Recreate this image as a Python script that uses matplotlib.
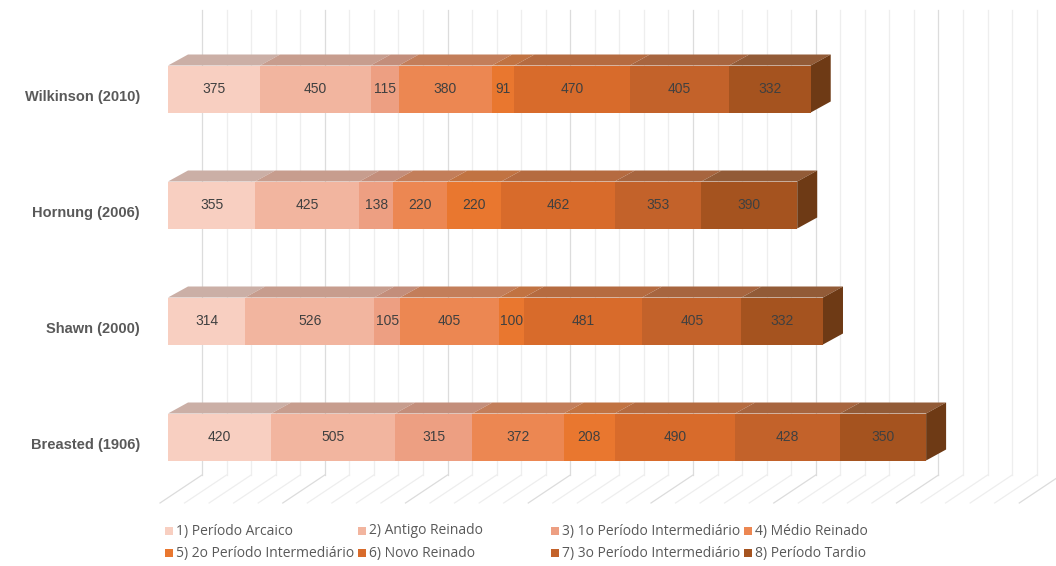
import matplotlib
matplotlib.use('Agg')
import matplotlib.pyplot as plt
from matplotlib.patches import Polygon, Rectangle
import matplotlib.colors as mcolors
import numpy as np

authors = ['Breasted (1906)', 'Shawn (2000)', 'Hornung (2006)', 'Wilkinson (2010)']
periods = ['1) Período Arcaico', '2) Antigo Reinado', '3) 1o Período Intermediário',
           '4) Médio Reinado', '5) 2o Período Intermediário', '6) Novo Reinado',
           '7) 3o Período Intermediário', '8) Período Tardio']

# durations (years) per author, one list per period
arcaico = [420, 314, 355, 375]
antigo = [505, 526, 425, 450]
inter1 = [315, 105, 138, 115]
medio = [372, 405, 220, 380]
inter2 = [208, 100, 220, 91]
novo = [490, 481, 462, 470]
inter3 = [428, 405, 353, 405]
tardio = [350, 332, 390, 332]
series = [arcaico, antigo, inter1, medio, inter2, novo, inter3, tardio]

colors = ['#F8CFC1', '#F2B59F', '#ED9F82', '#EC8752',
          '#E9772F', '#D86B2B', '#C3622A', '#A5531F']

# pixel -> data helpers (x: 0 at px 168, 0.2455 px per year; y: 116 px per category)
PX = 0.2455
PY = 116.0
W, H = 1056, 566
x0_px, y0_px = 168, 437

fig = plt.figure(figsize=(10.56, 5.66), dpi=100)
ax = fig.add_axes([0, 0, 1, 1])
ax.set_xlim(-x0_px / PX, (W - x0_px) / PX)
ax.set_ylim(-(H - y0_px) / PY, y0_px / PY)
ax.set_axis_off()

bar_h = 47 / PY
dx = 20 / PX
dy = 11 / PY

# back wall grid + floor lines
wall_dx = 34 / PX
floor_y = (y0_px - 475) / PY
front_y = (y0_px - 503) / PY
top_y = (y0_px - 10) / PY
for v in range(0, 3600, 100):
    c = '#dcdcdc' if v % 500 == 0 else '#eeeeee'
    xb = v + wall_dx
    ax.plot([xb, xb], [floor_y, top_y], color=c, lw=0.9, zorder=0)
    ax.plot([xb, xb - 42 / PX], [floor_y, front_y], color=c, lw=0.9, zorder=0)


def top_color(c):
    r, g, b = mcolors.to_rgb(c)
    gray = 0.42
    return tuple(0.68 * ch + 0.32 * gray for ch in (r, g, b))


for i, name in enumerate(authors):
    vals = [s[i] for s in series]
    lefts = np.concatenate([[0], np.cumsum(vals)[:-1]])
    yb = i - bar_h / 2
    yt = i + bar_h / 2
    for left, val, col in zip(lefts, vals, colors):
        ax.add_patch(Polygon([(left, yt), (left + val, yt), (left + val + dx, yt + dy),
                              (left + dx, yt + dy)], closed=True,
                             facecolor=top_color(col), edgecolor='none', zorder=2))
    total = sum(vals)
    ax.add_patch(Polygon([(total, yb), (total + dx, yb + dy), (total + dx, yt + dy),
                          (total, yt)], closed=True, facecolor='#6E3A15',
                         edgecolor='none', zorder=2))
    ax.barh(i, vals, left=lefts, height=bar_h, color=colors, zorder=3)
    for left, val in zip(lefts, vals):
        ax.text(left + val / 2, i, str(val), ha='center', va='center', fontsize=10,
                family='Liberation Sans', color='#404040', zorder=4)
    ax.text(-114, i - 8 / PY, name, ha='right', va='center', fontsize=10.5,
            fontweight='bold', family='Liberation Sans', color='#595959')

# legend, two rows of four
col_x = [165, 358, 551, 744]
row_y = [531, 553]
for k, (lab, col) in enumerate(zip(periods, colors)):
    px = col_x[k % 4]
    py = row_y[k // 4]
    fig.patches.append(Rectangle((px / W, 1 - (py + 4) / H), 8 / W, 8 / H,
                                 transform=fig.transFigure, facecolor=col,
                                 edgecolor='none'))
    fig.text((px + 11) / W, 1 - py / H, lab, ha='left', va='center', fontsize=10,
             family='Open Sans', color='#595959')

plt.savefig('out.png', dpi=100)
